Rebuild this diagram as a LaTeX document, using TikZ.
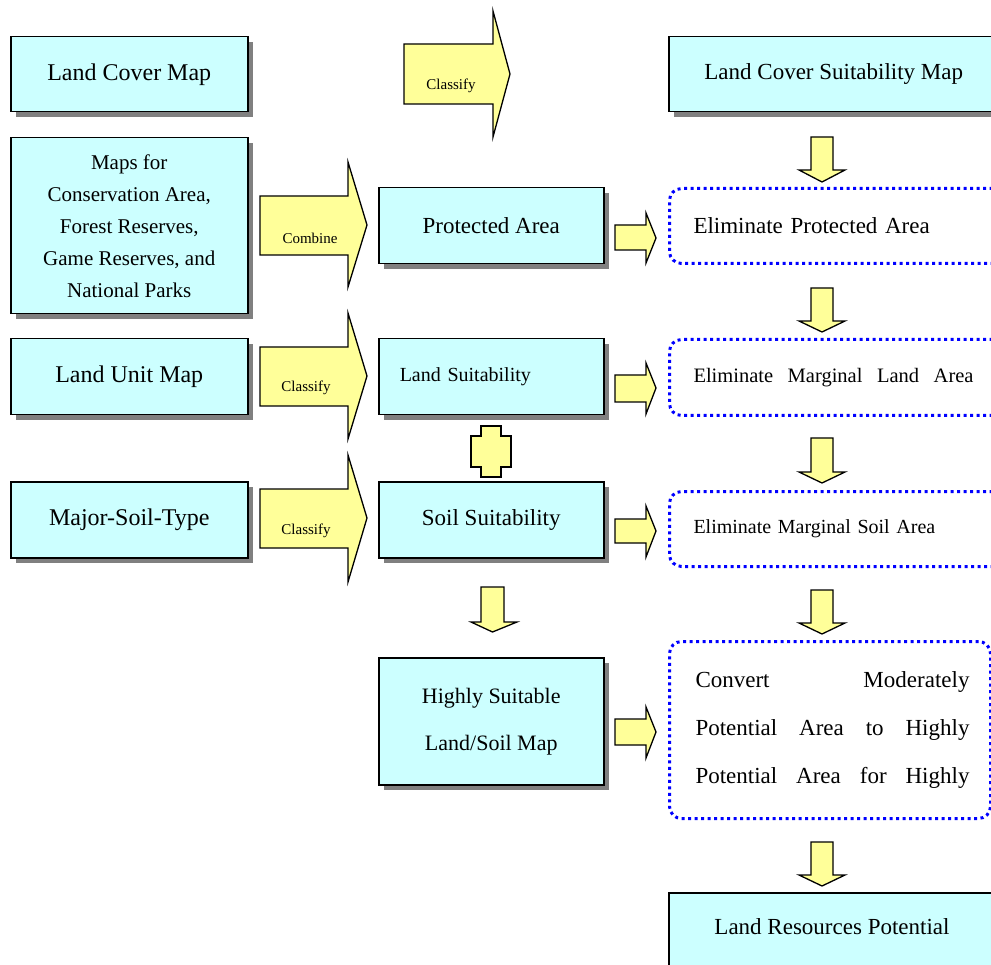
\documentclass[tikz,border=0pt]{standalone}
\usepackage{fontspec}
\setmainfont{Liberation Serif}
\usetikzlibrary{shadows}
\definecolor{boxcyan}{HTML}{CCFFFF}
\definecolor{arrowyellow}{HTML}{FFFF99}
\definecolor{dotblue}{HTML}{0000FF}
\definecolor{shadowgray}{HTML}{808080}
\begin{document}
\begin{tikzpicture}[x=1pt,y=-1pt,
  box/.style={draw=black, line width=1.5pt, fill=boxcyan,
    drop shadow={shadow xshift=5pt, shadow yshift=-5pt, fill=shadowgray, opacity=1},
    anchor=north west, inner sep=0pt, align=center,
    font=\fontsize{23}{32}\selectfont},
  dotbox/.style={draw=dotblue, line width=3pt, dash pattern=on 3pt off 3.5pt,
    rounded corners=12pt, anchor=north west, inner sep=0pt},
  blockarrow/.style={draw=black, line width=1.3pt, fill=arrowyellow, line join=miter},
  arrowlabel/.style={font=\fontsize{15}{18}\selectfont, inner sep=0pt},
]
\useasboundingbox (0,0) rectangle (991,965);
\clip (0,0) rectangle (991,965);

% ---------- left column ----------
\node[box, minimum width=237pt, minimum height=75pt] (lcm) at (10,36)
  {\fontsize{24}{30}\selectfont Land Cover Map};
\node[box, minimum width=237pt, minimum height=176pt,
      font=\fontsize{21}{32}\selectfont] (maps) at (10,137)
  {Maps for\\Conservation Area,\\Forest Reserves,\\Game Reserves, and\\National Parks};
\node[box, minimum width=237pt, minimum height=76pt] (lum) at (10,338)
  {\fontsize{24}{30}\selectfont Land Unit Map};
\node[box, minimum width=237pt, minimum height=76pt] (mst) at (10,481)
  {\fontsize{24}{30}\selectfont Major-Soil-Type};

% ---------- middle column ----------
\node[box, minimum width=225pt, minimum height=76pt] (pa) at (378,187)
  {Protected Area};
\node[box, minimum width=225pt, minimum height=76pt, inner xsep=21pt,
      text width=183pt, align=left, font=\fontsize{20}{24}\selectfont] (ls) at (378,338)
  {Land Suitability};
\node[box, minimum width=225pt, minimum height=76pt] (ss) at (378,481)
  {Soil Suitability};
\node[box, minimum width=225pt, minimum height=127pt,
      font=\fontsize{22}{47}\selectfont] (hs) at (378,657)
  {Highly Suitable\\Land/Soil Map};

% ---------- right column ----------
\node[box, minimum width=330pt, minimum height=75pt] (lcsm) at (668,36)
  {Land Cover Suitability Map};
\node[dotbox, minimum width=335pt, minimum height=75pt, inner xsep=24pt,
      text width=287pt, align=left, font=\fontsize{23}{28}\selectfont] (epa) at (668,187)
  {Eliminate Protected Area};
\node[dotbox, minimum width=335pt, minimum height=76pt, inner xsep=24pt,
      text width=287pt, align=left, font=\fontsize{20.5}{24}\selectfont] (eml) at (668,338)
  {\makebox[280pt][l]{Eliminate\hfill Marginal\hfill Land\hfill Area}};
\node[dotbox, minimum width=335pt, minimum height=75pt, inner xsep=24pt,
      text width=287pt, align=left, font=\fontsize{20}{24}\selectfont] (ems) at (668,490)
  {Eliminate Marginal Soil Area};
\node[dotbox, minimum width=321pt, minimum height=177pt, inner xsep=26pt,
      text width=269pt, align=left, font=\fontsize{23}{48}\selectfont] (cmp) at (668,640)
  {\makebox[274pt][l]{Convert\hfill Moderately}\\
   \makebox[274pt][l]{Potential\hfill Area\hfill to\hfill Highly}\\
   \makebox[274pt][l]{Potential\hfill Area\hfill for\hfill Highly}};
\node[box, minimum width=330pt, minimum height=85pt] (lrp) at (668,892) {};
\node[font=\fontsize{23}{28}\selectfont] (lrptext) at (832,927) {Land Resources Potential};

% ---------- large block arrows ----------
\draw[blockarrow] (404,44) -- (493,44) -- (493,11) -- (510,74) -- (493,137)
  -- (493,104) -- (404,104) -- cycle;
\node[arrowlabel] (c1) at (451,86) {Classify};

\draw[blockarrow] (260,196) -- (348,196) -- (348,162) -- (367,225) -- (348,287)
  -- (348,255) -- (260,255) -- cycle;
\node[arrowlabel] (c2) at (310,238) {Combine};

\draw[blockarrow] (260,347) -- (348,347) -- (348,313) -- (367,376) -- (348,439)
  -- (348,406) -- (260,406) -- cycle;
\node[arrowlabel] (c3) at (306,388) {Classify};

\draw[blockarrow] (260,489) -- (348,489) -- (348,455) -- (367,518) -- (348,582)
  -- (348,548) -- (260,548) -- cycle;
\node[arrowlabel] (c4) at (306,531) {Classify};

% ---------- small right arrows ----------
\foreach \yt/\yb/\ht/\hb/\tip in {225/250/213/263/238, 375/402/363/414/388,
                                   519/543/506/557/531, 719/745/707/758/732}{
  \draw[blockarrow] (615,\yt) -- (646,\yt) -- (646,\ht) -- (656,\tip) -- (646,\hb)
    -- (646,\yb) -- (615,\yb) -- cycle;
}

% ---------- small down arrows (right column) ----------
\foreach \top/\hs/\tip in {137/170/182, 288/321/332, 438/472/483, 590/623/634, 842/875/886}{
  \draw[blockarrow] (811,\top) -- (833,\top) -- (833,\hs) -- (845,\hs) -- (822,\tip)
    -- (799,\hs) -- (811,\hs) -- cycle;
}

% ---------- middle down arrow ----------
\draw[blockarrow] (481,587) -- (504,587) -- (504,622) -- (517,622) -- (492.5,632)
  -- (471,622) -- (481,622) -- cycle;

% ---------- cross between land and soil suitability ----------
\draw[blockarrow] (481,426) -- (501,426) -- (501,436) -- (511,436) -- (511,467)
  -- (501,467) -- (501,477) -- (481,477) -- (481,467) -- (471,467) -- (471,436)
  -- (481,436) -- cycle;
\end{tikzpicture}
\end{document}
